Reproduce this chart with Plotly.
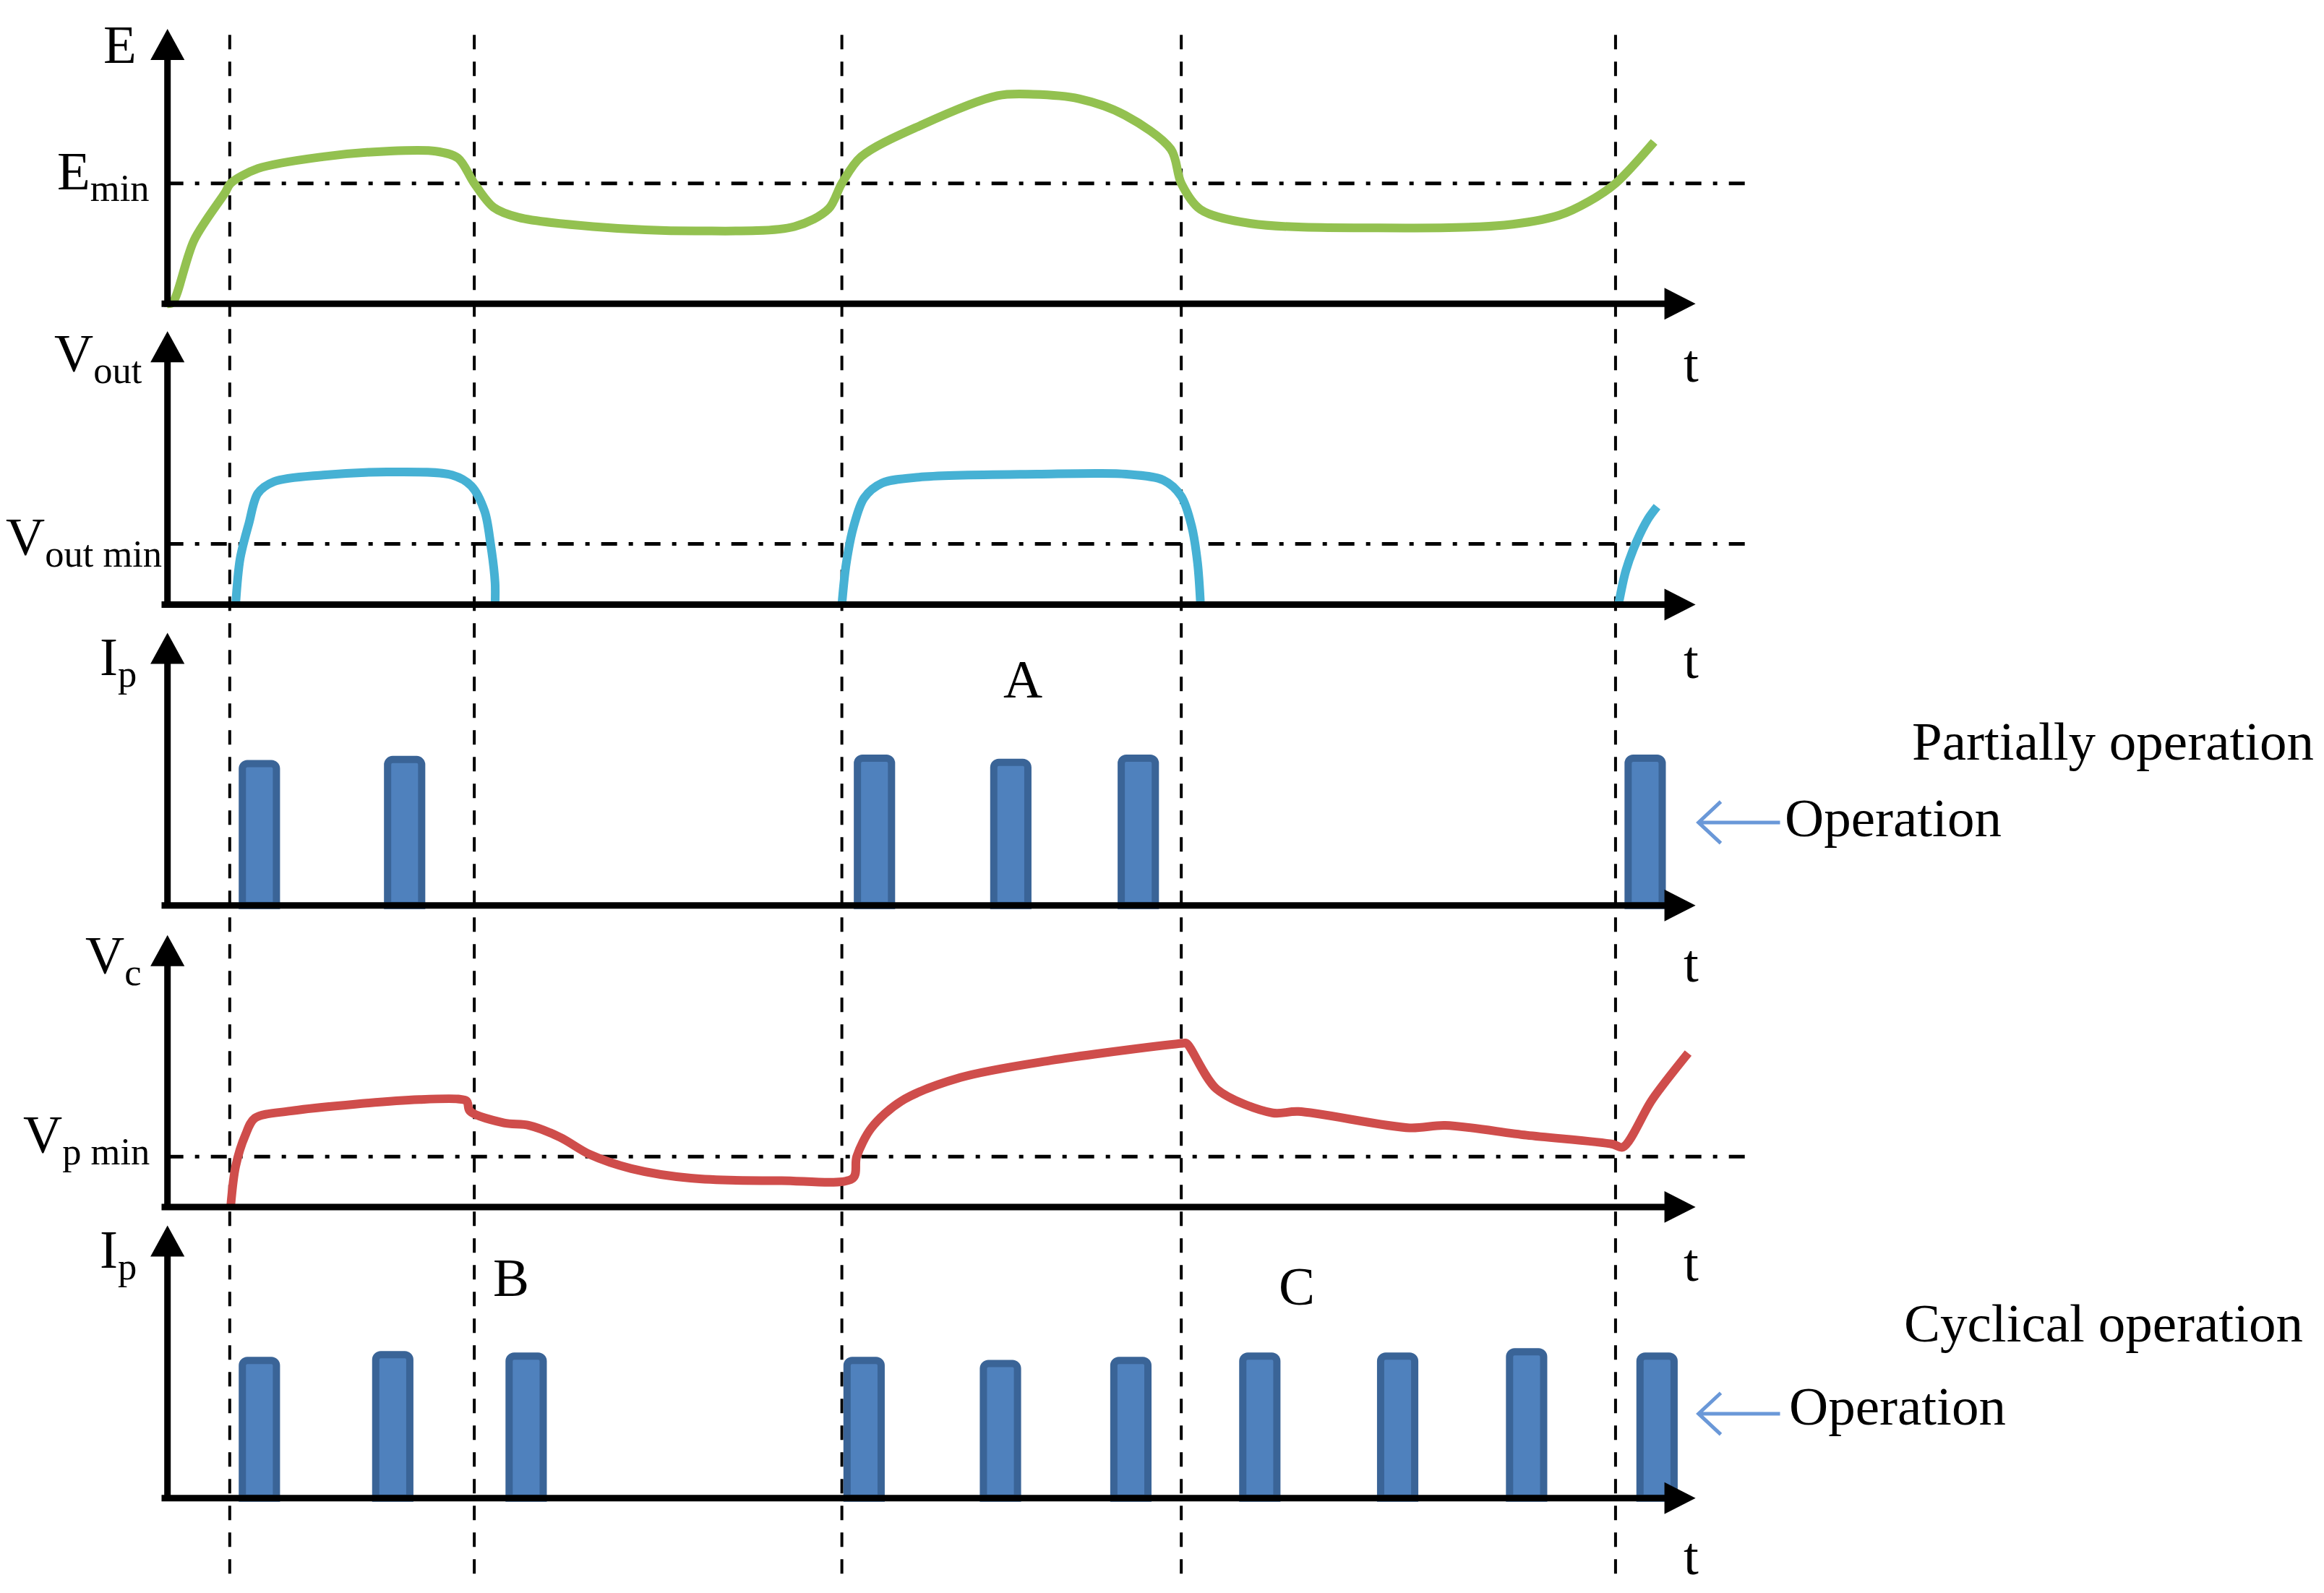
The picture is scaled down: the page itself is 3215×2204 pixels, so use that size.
import plotly.graph_objects as go

# ---- data: time in arbitrary units, each signal normalised to its axis height ----
t_switch = [4.2, 20.7, 45.5, 68.4, 97.7]      # dashed instants
t_level_end = 106.9                            # end of the dash-dot threshold lines

# harvested energy E
e_t = [0.0, 0.35, 1.8, 3.9, 4.26, 6.1, 10.5, 14.8, 18.1, 19.6, 20.7, 22.0, 23.7, 28.7, 35.7,
       42.3, 44.6, 45.5, 46.8, 50.9, 56.0, 58.4, 61.5, 64.6, 67.7, 68.4, 69.7, 73.1, 81.7,
       90.2, 93.9, 95.9, 97.7, 100.3]
e_val = [0.0, 0.005, 0.232, 0.405, 0.438, 0.492, 0.535, 0.555, 0.555, 0.530, 0.438, 0.351,
         0.314, 0.281, 0.265, 0.281, 0.345, 0.438, 0.535, 0.651, 0.757, 0.762, 0.746, 0.686,
         0.562, 0.438, 0.343, 0.292, 0.276, 0.286, 0.322, 0.372, 0.438, 0.589]
e_min = 0.438

# output voltage Vout (three pulses)
vout1_t = [4.6, 4.9, 5.5, 6.1, 7.2, 10.5, 14.8, 19.2, 20.5, 21.4, 21.8, 22.1, 22.1]
vout1_v = [0.0, 0.168, 0.298, 0.407, 0.450, 0.474, 0.485, 0.474, 0.434, 0.341, 0.222, 0.081, 0.0]
vout2_t = [45.5, 45.8, 46.3, 47.0, 48.2, 50.7, 58.7, 64.7, 67.2, 68.4, 69.1, 69.5, 69.7]
vout2_v = [0.0, 0.152, 0.287, 0.390, 0.444, 0.466, 0.477, 0.477, 0.455, 0.396, 0.287, 0.152, 0.0]
vout3_t = [97.9, 98.4, 99.1, 99.9, 100.5]
vout3_v = [0.0, 0.125, 0.228, 0.314, 0.358]
vout_min = 0.222

# Ip, partially operation
ip_part_t = [6.2, 16.0, 47.7, 56.9, 65.5, 99.7]
ip_part_h = [0.52, 0.535, 0.54, 0.525, 0.54, 0.54]

# capacitor voltage Vc
vc_t = [4.27, 4.6, 5.25, 5.9, 8.3, 12.65, 17.0, 19.6, 20.2, 20.4, 22.7, 24.4, 26.5, 28.5, 31.3,
        35.3, 41.4, 46.25, 46.5, 47.5, 49.5, 53.5, 59.6, 68.5, 68.75, 70.8, 74.55, 76.3, 83.8,
        86.2, 91.7, 97.5, 98.2, 100.2, 102.6]
vc_v = [0.005, 0.150, 0.264, 0.327, 0.353, 0.378, 0.395, 0.397, 0.389, 0.353, 0.309, 0.300,
        0.256, 0.193, 0.141, 0.106, 0.097, 0.106, 0.185, 0.291, 0.389, 0.476, 0.539, 0.602,
        0.602, 0.433, 0.346, 0.351, 0.291, 0.300, 0.264, 0.231, 0.220, 0.397, 0.566]
vp_min = 0.185

# Ip, cyclical operation
ip_cyc_t = [6.2, 15.2, 24.2, 47.0, 56.2, 65.0, 73.7, 83.0, 91.7, 100.5]
ip_cyc_h = [0.505, 0.526, 0.521, 0.505, 0.494, 0.505, 0.521, 0.521, 0.537, 0.521]

# ---- layout helpers (measured on a 1568x1075 copy of the figure) ----
W, H = 3215, 2204
REF_W, REF_H = 1568, 1075
OFF = 8 * REF_W / W   # page body margin (8px) expressed in ref px
X0 = 113          # ref px of t = 0 (the vertical axes)
XTIP = 1144       # ref px of the time-axis arrow tip
PX_PER_T = 10


def px(u):
    return (u - OFF) / REF_W


def py(v):
    return 1 - (v - OFF) / REF_H


# (time-axis y, arrow tip y) per panel, ref px
panels = [(205, 19.5), (408, 223.5), (611, 427), (814.5, 631), (1011, 827)]

GREEN = '#93c150'
CYAN = '#46b1d4'
RED = '#cf4d4b'
BAR_FILL = '#4f81bd'
BAR_LINE = '#3a6497'
BLUE_ARROW = '#6a98d8'
FONT = 'Liberation Serif'
FS = 75

fig = go.Figure()


def curve(x, y, color, ax):
    fig.add_trace(go.Scatter(x=x, y=y, mode='lines', yaxis=ax, hoverinfo='skip',
                             line=dict(color=color, width=12, shape='spline', smoothing=0.9)))


def level(val, ax):
    fig.add_trace(go.Scatter(x=[0, t_level_end], y=[val, val], mode='lines', yaxis=ax,
                             hoverinfo='skip',
                             line=dict(color='black', width=5, dash='22px,16px,6px,16px')))


def pulses(x, h, ax):
    fig.add_trace(go.Bar(x=x, y=h, yaxis=ax, width=2.3, hoverinfo='skip',
                         marker=dict(color=BAR_FILL, cornerradius=7,
                                     line=dict(color=BAR_LINE, width=10))))


level(e_min, 'y')
curve(e_t, e_val, GREEN, 'y')
level(vout_min, 'y2')
for xs, ys in [(vout1_t, vout1_v), (vout2_t, vout2_v), (vout3_t, vout3_v)]:
    curve(xs, ys, CYAN, 'y2')
pulses(ip_part_t, ip_part_h, 'y3')
level(vp_min, 'y4')
curve(vc_t, vc_v, RED, 'y4')
pulses(ip_cyc_t, ip_cyc_h, 'y5')

layout = dict(
    width=W, height=H, showlegend=False,
    paper_bgcolor='white', plot_bgcolor='rgba(0,0,0,0)',
    margin=dict(l=0, r=0, t=0, b=0),
    xaxis=dict(range=[-(X0 - OFF) / PX_PER_T, (REF_W + OFF - X0) / PX_PER_T], domain=[0, 1],
               visible=False, fixedrange=True),
)
for k, (base, tip) in enumerate(panels):
    h = base - tip
    name = 'yaxis' if k == 0 else f'yaxis{k + 1}'
    layout[name] = dict(domain=[py(base + 40), py(tip - 12)], range=[-40 / h, 1 + 12 / h],
                        visible=False, anchor='x', fixedrange=True)
fig.update_layout(**layout)

shapes = []
# dashed switching instants
for t in t_switch:
    shapes.append(dict(type='line', xref='x', yref='paper', x0=t, x1=t, y0=py(1062), y1=py(16),
                       line=dict(color='black', width=4, dash='20px,17px'), layer='below'))

# axes with arrow heads
for base, tip in panels:
    shapes.append(dict(type='line', xref='paper', yref='paper', x0=px(X0), x1=px(X0),
                       y0=py(base + 2), y1=py(tip + 15), line=dict(color='black', width=9)))
    shapes.append(dict(type='path', xref='paper', yref='paper', fillcolor='black',
                       line=dict(width=0),
                       path=f'M {px(X0 - 11.5)} {py(tip + 21)} L {px(X0)} {py(tip)} '
                            f'L {px(X0 + 11.5)} {py(tip + 21)} Z'))
    shapes.append(dict(type='line', xref='paper', yref='paper', x0=px(X0 - 4), x1=px(XTIP - 15),
                       y0=py(base), y1=py(base), line=dict(color='black', width=9)))
    shapes.append(dict(type='path', xref='paper', yref='paper', fillcolor='black',
                       line=dict(width=0),
                       path=f'M {px(XTIP - 21)} {py(base - 10.7)} L {px(XTIP)} {py(base)} '
                            f'L {px(XTIP - 21)} {py(base + 10.7)} Z'))

# "Operation" pointers
for yy in [555, 954]:
    tipx = 1146
    shapes.append(dict(type='path', xref='paper', yref='paper',
                       line=dict(color=BLUE_ARROW, width=5),
                       path=f'M {px(tipx + 55)} {py(yy)} L {px(tipx + 1)} {py(yy)} '
                            f'M {px(tipx + 15)} {py(yy - 14)} L {px(tipx)} {py(yy)} '
                            f'L {px(tipx + 15)} {py(yy + 14)}'))
fig.update_layout(shapes=shapes)

notes = []


def note(text, x, y, xanchor='center'):
    notes.append(dict(text=text, x=px(x), y=py(y), xref='paper', yref='paper',
                      xanchor=xanchor, yanchor='middle', showarrow=False,
                      font=dict(family=FONT, size=FS, color='black')))


# axis names
note('E', 93, 30, 'right')
note('E<sub>min</sub>', 102, 118, 'right')
note('V<sub>out</sub>', 97, 241, 'right')
note('V<sub>out min</sub>', 110, 365, 'right')
note('I<sub>p</sub>', 93, 446, 'right')
note('V<sub>c</sub>', 96, 647, 'right')
note('V<sub>p min</sub>', 102, 768, 'right')
note('I<sub>p</sub>', 93, 846, 'right')
for yy in [245, 445, 650, 852, 1050]:
    note('t', 1141, yy)
note('A', 690, 458)
note('B', 345, 862)
note('C', 875, 868)
note('Partially operation', 1562, 500, 'right')
note('Operation', 1203, 552, 'left')
note('Cyclical operation', 1555, 893, 'right')
note('Operation', 1206, 949, 'left')
fig.update_layout(annotations=notes)

fig.write_html('out.html')
